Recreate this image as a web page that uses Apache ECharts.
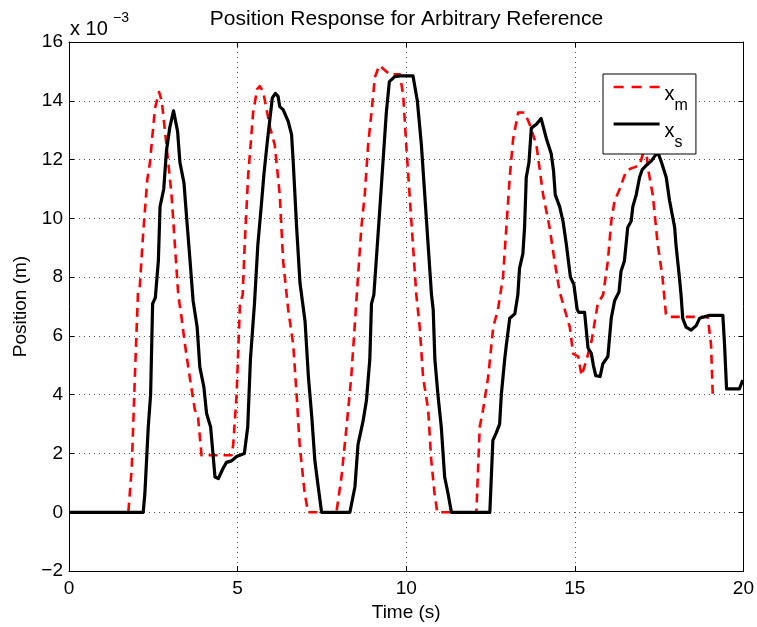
<!DOCTYPE html>
<html>
<head>
<meta charset="utf-8">
<script src="https://cdn.jsdelivr.net/npm/echarts@6/dist/echarts.min.js"></script>
<style>
html,body{margin:0;padding:0;background:#fff;}
#chart{width:757px;height:627px;}
</style>
</head>
<body>
<div id="chart"></div>
<script>
// ---- data (values in units of 1e-3 m) ----
var xmTime = [0,1.76,1.86,1.95,2.05,2.1,2.2,2.32,2.4,2.55,2.67,2.75,2.89,3.04,3.14,3.24,3.34,3.44,3.58,3.73,3.83,3.93,4.82,4.87,4.97,5.07,5.15,5.21,5.31,5.46,5.58,5.66,5.76,5.96,6.1,6.25,6.35,6.5,6.65,6.75,6.84,6.99,7.09,7.93,8.08,8.23,8.37,8.47,8.57,8.67,8.77,8.87,8.97,9.07,9.2,9.36,9.51,9.81,9.91,10.0,10.1,10.2,10.3,10.4,10.5,10.65,10.74,10.84,10.92,12.08,12.18,12.28,12.43,12.58,12.72,12.87,12.97,13.07,13.17,13.32,13.51,13.66,13.86,14.06,14.25,14.4,14.55,14.7,14.85,14.95,15.1,15.2,15.35,15.5,15.68,15.84,15.98,16.08,16.18,16.33,16.52,16.67,16.92,17.02,17.1,17.17,17.31,17.46,17.6,17.7,17.75,18.94,19.04,19.09,19.14];
var xmValue = [0,0,1.5,4.5,7.6,7.7,9.5,11.3,11.9,13.75,14.3,14.0,12.5,10.8,9.1,7.4,6.6,5.7,4.6,3.5,3.2,1.94,1.94,2.3,4.0,7.1,7.4,9.1,11.4,13.6,14.4,14.5,14.3,13.1,12.5,10.8,8.55,6.9,5.7,4.0,2.3,0.64,0,0,1.2,2.9,4.6,6.3,8.0,9.7,10.8,12.5,13.6,14.8,15.2,15.05,14.9,14.9,14.2,12.5,10.8,9.1,7.4,6.3,4.6,3.5,1.8,0.64,0,0,2.9,3.5,4.6,6.3,6.9,8.0,9.7,11.4,12.7,13.6,13.6,13.2,12.5,10.8,9.7,8.55,7.5,6.9,6.3,5.4,5.3,4.65,5.2,5.85,7.1,7.4,8.55,9.9,10.6,11.0,11.6,11.7,11.8,12.2,12.5,11.7,10.8,9.1,8.0,6.75,6.65,6.65,5.7,4.0,4.0];

var xsTime = [0,2.2,2.25,2.35,2.42,2.48,2.56,2.65,2.7,2.81,2.89,2.99,3.1,3.22,3.29,3.41,3.49,3.59,3.68,3.8,3.88,4.0,4.08,4.2,4.33,4.43,4.57,4.67,4.82,4.97,5.2,5.3,5.38,5.5,5.6,5.7,5.78,5.88,5.96,6.03,6.12,6.2,6.25,6.35,6.5,6.6,6.65,6.75,6.85,7.0,7.1,7.2,7.29,7.39,7.49,8.33,8.48,8.57,8.72,8.82,8.92,8.97,9.04,9.11,9.21,9.31,9.41,9.5,9.66,9.81,10.2,10.33,10.45,10.55,10.65,10.75,10.8,10.85,10.94,11.04,11.14,11.24,11.34,12.48,12.57,12.67,12.77,12.82,12.92,12.97,13.07,13.22,13.31,13.36,13.46,13.51,13.56,13.64,13.71,13.86,14.0,14.16,14.3,14.37,14.42,14.55,14.65,14.75,14.87,14.97,15.07,15.12,15.29,15.39,15.49,15.55,15.62,15.75,15.83,15.98,16.08,16.18,16.31,16.37,16.47,16.57,16.67,16.72,16.82,16.92,17.0,17.14,17.26,17.36,17.46,17.56,17.71,17.81,17.96,18.0,18.1,18.15,18.2,18.3,18.45,18.6,18.7,18.85,18.99,19.39,19.44,19.5,19.88,19.98,20];
var xsValue = [0,0,0.64,2.9,4.0,7.1,7.3,8.55,10.4,11.0,12.3,13.1,13.66,12.96,11.9,11.2,10.0,8.55,7.2,6.3,4.94,4.26,3.36,2.9,1.2,1.15,1.5,1.7,1.75,1.9,2.0,2.9,5.2,7.1,9.1,10.4,11.5,12.6,13.4,14.1,14.25,14.15,13.8,13.7,13.3,12.85,11.9,9.7,7.8,6.5,4.6,3.25,1.77,0.87,0,0,0.87,2.3,3.1,3.8,5.2,7.1,7.4,8.55,10.2,11.9,13.6,14.65,14.82,14.85,14.85,14.0,12.5,10.8,9.1,7.4,6.9,5.2,4.0,2.9,1.2,0.64,0,0,2.45,2.7,3.0,4.0,5.2,5.7,6.6,6.75,7.4,8.3,8.8,9.7,11.4,11.9,13.07,13.2,13.4,12.7,12.2,11.6,10.8,10.4,9.9,9.1,8.0,7.76,6.9,6.8,6.8,5.6,5.4,5.0,4.65,4.62,5.05,5.3,6.6,7.2,7.5,8.2,8.55,9.7,9.9,10.4,10.8,11.4,11.66,11.83,11.94,12.1,12.25,11.94,11.4,10.6,9.7,9.1,8.0,7.4,6.6,6.3,6.2,6.35,6.6,6.65,6.7,6.7,5.7,4.2,4.2,4.5,4.5];

var seriesNames = ['xm', 'xs'];
var seriesSubs = {xm: 'm', xs: 's'};
var xTicks = {min: 0, max: 20, interval: 5};
var yTicks = {min: -2, max: 16, interval: 2};
var titleText = 'Position Response for Arbitrary Reference';
var xName = 'Time (s)';
var yName = 'Position (m)';

function pairs(t, v) { return t.map(function (ti, i) { return [ti, v[i]]; }); }

var FONT = '"Liberation Sans", Arial, Helvetica, sans-serif';
var chart = echarts.init(document.getElementById('chart'), null, {renderer: 'canvas'});

var tickStyle = {show: true, inside: true, length: 5, lineStyle: {color: '#000', width: 1}};
var gridLine = {show: true, lineStyle: {color: '#555', width: 1, type: [1, 4]}};
var xmLine = {color: '#ff0000', width: 2.6, type: [9, 6], cap: 'butt', join: 'round'};
var xsLine = {color: '#000', width: 3.2, type: 'solid', join: 'round'};

var option = {
  backgroundColor: '#fff',
  animation: false,
  textStyle: {fontFamily: FONT},
  grid: {left: 69, right: 13, top: 42, bottom: 51, containLabel: false},
  graphic: [
    {type: 'text', x: 406.5, y: 19, silent: true,
     style: {text: titleText, font: '21px ' + FONT, fill: '#000', textAlign: 'center', textVerticalAlign: 'middle'}},
    {type: 'text', x: 70, y: 29, silent: true,
     style: {text: 'x 10', font: '20px ' + FONT, fill: '#000', textAlign: 'left', textVerticalAlign: 'middle'}},
    {type: 'text', x: 113, y: 18, silent: true,
     style: {text: '\u22123', font: '14px ' + FONT, fill: '#000', textAlign: 'left', textVerticalAlign: 'middle'}}
  ],
  legend: {
    data: [
      {name: seriesNames[0], lineStyle: {color: '#ff0000', width: 2.6, type: [10, 8], cap: 'butt'}},
      {name: seriesNames[1], lineStyle: {color: '#000', width: 3.2, type: 'solid'}}
    ],
    orient: 'vertical',
    left: 603, top: 74,
    padding: [3, 8, 3, 9],
    itemWidth: 46, itemHeight: 14, itemGap: 0,
    backgroundColor: '#fff',
    borderColor: '#000', borderWidth: 1, borderRadius: 0,
    itemStyle: {color: 'rgba(0,0,0,0)', borderColor: 'rgba(0,0,0,0)', borderWidth: 0, opacity: 0},
    formatter: function (name) { return '{x|x}{s|' + seriesSubs[name] + '}'; },
    textStyle: {
      color: '#000', fontFamily: FONT,
      rich: {
        x: {fontSize: 20, lineHeight: 20, padding: [7, 0, 0, 0], verticalAlign: 'top', fontFamily: FONT, color: '#000'},
        s: {fontSize: 16, lineHeight: 16, padding: [21, 0, 0, 0], verticalAlign: 'top', fontFamily: FONT, color: '#000'}
      }
    }
  },
  xAxis: [
    {type: 'value', min: xTicks.min, max: xTicks.max, interval: xTicks.interval, position: 'bottom',
     name: xName, nameLocation: 'middle', nameGap: 22,
     nameTextStyle: {fontSize: 19, color: '#000', fontFamily: FONT, verticalAlign: 'top'},
     axisLine: {show: true, onZero: false, lineStyle: {color: '#000', width: 1}},
     axisTick: tickStyle,
     axisLabel: {fontSize: 19, color: '#000', margin: 8, fontFamily: FONT},
     splitLine: gridLine},
    {type: 'value', min: xTicks.min, max: xTicks.max, interval: xTicks.interval, position: 'top',
     axisLine: {show: true, onZero: false, lineStyle: {color: '#000', width: 1}},
     axisTick: tickStyle, axisLabel: {show: false}, splitLine: {show: false}}
  ],
  yAxis: [
    {type: 'value', min: yTicks.min, max: yTicks.max, interval: yTicks.interval, position: 'left',
     name: yName, nameLocation: 'middle', nameGap: 35, nameRotate: 90,
     nameTextStyle: {fontSize: 19, color: '#000', fontFamily: FONT},
     axisLine: {show: true, onZero: false, lineStyle: {color: '#000', width: 1}},
     axisTick: tickStyle,
     axisLabel: {fontSize: 19, color: '#000', margin: 6, fontFamily: FONT,
                 formatter: function (v) { return v < 0 ? '\u2212' + Math.abs(v) : String(v); }},
     splitLine: gridLine},
    {type: 'value', min: yTicks.min, max: yTicks.max, interval: yTicks.interval, position: 'right',
     axisLine: {show: true, onZero: false, lineStyle: {color: '#000', width: 1}},
     axisTick: tickStyle, axisLabel: {show: false}, splitLine: {show: false}}
  ],
  series: [
    {name: 'xm', type: 'line', xAxisIndex: 0, yAxisIndex: 0, data: pairs(xmTime, xmValue),
     showSymbol: false, symbol: 'none', smooth: false, z: 2,
     lineStyle: xmLine, itemStyle: {color: '#ff0000'}},
    {name: 'xs', type: 'line', xAxisIndex: 0, yAxisIndex: 0, data: pairs(xsTime, xsValue),
     showSymbol: false, symbol: 'none', smooth: false, z: 3,
     lineStyle: xsLine, itemStyle: {color: '#000'}}
  ]
};
chart.setOption(option);
</script>
</body>
</html>
